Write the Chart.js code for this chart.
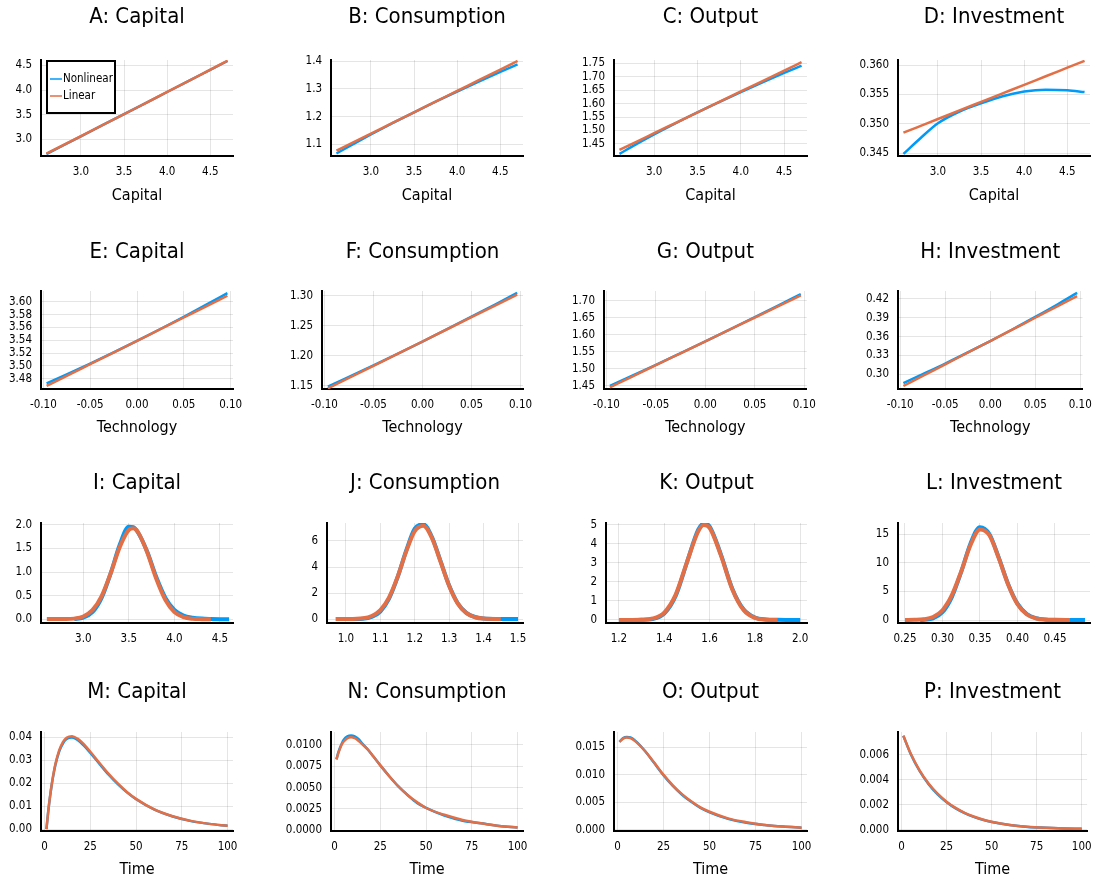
<!DOCTYPE html>
<html>
<head>
<meta charset="utf-8">
<script src="https://cdn.jsdelivr.net/npm/chart.js@4.4.1/dist/chart.umd.min.js"></script>
<style>
  body { margin: 0; background: #fff; }
  #grid { position: relative; width: 1101px; height: 884px; }
  .cell { position: absolute; }
</style>
</head>
<body>
<div id="grid"></div>
<script>
const FONT = "'DejaVu Sans Condensed', 'DejaVu Sans', sans-serif";
const BLUE = '#009AF9';
const ORANGE = '#E26F46';

// ---- row 1: policy functions over capital ----
const capitalGrid = [2.6, 2.8, 3.0, 3.25, 3.5, 3.75, 4.0, 4.25, 4.5, 4.7];
const capitalNonlin = [2.700, 2.880, 3.060, 3.285, 3.510, 3.735, 3.960, 4.185, 4.410, 4.590];
const capitalLinear = [2.708, 2.885, 3.063, 3.286, 3.510, 3.736, 3.962, 4.188, 4.414, 4.595];
const consNonlin = [1.0670, 1.1018, 1.1354, 1.1762, 1.2154, 1.2534, 1.2902, 1.3261, 1.3609, 1.3880];
const consLinear = [1.0770, 1.1078, 1.1385, 1.1770, 1.2154, 1.2539, 1.2923, 1.3308, 1.3692, 1.4000];
const outNonlin = [1.4130, 1.4499, 1.4853, 1.5275, 1.5674, 1.6056, 1.6428, 1.6788, 1.7138, 1.7410];
const outLinear = [1.4277, 1.4587, 1.4898, 1.5286, 1.5674, 1.6062, 1.6450, 1.6838, 1.7226, 1.7537];
const invNonlin = [0.3449, 0.3476, 0.3501, 0.3521, 0.3535, 0.3547, 0.3555, 0.3558, 0.3557, 0.3554];
const invLinear = [0.34850, 0.34966, 0.35082, 0.35228, 0.35373, 0.35518, 0.35663, 0.35809, 0.35954, 0.36070];

// ---- row 2: policy functions over technology ----
const techGrid = [-0.0965, -0.075, -0.05, -0.025, 0, 0.025, 0.05, 0.075, 0.0965];
const techCapNonlin = [3.4728, 3.4869, 3.5037, 3.5211, 3.5390, 3.5575, 3.5765, 3.5961, 3.6135];
const techCapLinear = [3.4687, 3.4844, 3.5026, 3.5208, 3.5390, 3.5572, 3.5754, 3.5936, 3.6093];
const techConsNonlin = [1.1488, 1.1652, 1.1844, 1.2040, 1.2240, 1.2444, 1.2652, 1.2864, 1.3050];
const techConsLinear = [1.1460, 1.1634, 1.1836, 1.2038, 1.2240, 1.2442, 1.2644, 1.2846, 1.3020];
const techOutNonlin = [1.4500, 1.4785, 1.5121, 1.5463, 1.5810, 1.6163, 1.6521, 1.6883, 1.7200];
const techOutLinear = [1.4460, 1.4761, 1.5110, 1.5460, 1.5810, 1.6160, 1.6510, 1.6859, 1.7160];
const techInvNonlin = [0.2859, 0.3002, 0.3171, 0.3348, 0.3530, 0.3718, 0.3914, 0.4116, 0.4297];
const techInvLinear = [0.2814, 0.2974, 0.3159, 0.3345, 0.3530, 0.3715, 0.3901, 0.4086, 0.4246];

// ---- row 3: simulated densities ----
const densCapNlX = [2.9, 3.0, 3.1, 3.2, 3.3, 3.4, 3.5, 3.55, 3.6, 3.7, 3.8, 3.9, 4.0, 4.1, 4.2, 4.3, 4.4, 4.5, 4.6];
const densCapNl = [0.005, 0.035, 0.15, 0.45, 0.97, 1.58, 1.96, 1.95, 1.84, 1.44, 0.90, 0.46, 0.20, 0.08, 0.035, 0.015, 0.007, 0.003, 0.001];
const densCapLinX = [2.6, 2.8, 2.9, 3.0, 3.1, 3.2, 3.3, 3.4, 3.5, 3.55, 3.6, 3.7, 3.8, 3.9, 4.0, 4.1, 4.2, 4.3, 4.4];
const densCapLin = [0.005, 0.006, 0.015, 0.060, 0.193, 0.487, 0.973, 1.529, 1.893, 1.928, 1.849, 1.424, 0.863, 0.414, 0.155, 0.046, 0.011, 0.004, 0.002];
const densConsNlX = [1.0, 1.05, 1.075, 1.1, 1.125, 1.15, 1.175, 1.2, 1.225, 1.25, 1.275, 1.3, 1.325, 1.35, 1.375, 1.4, 1.45, 1.5];
const densConsNl = [0.0, 0.03, 0.16, 0.58, 1.55, 3.20, 5.25, 6.95, 7.28, 6.30, 4.45, 2.58, 1.22, 0.48, 0.16, 0.05, 0.008, 0.001];
const densConsLinX = [0.97, 1.0, 1.05, 1.075, 1.1, 1.125, 1.15, 1.175, 1.2, 1.225, 1.25, 1.275, 1.3, 1.325, 1.35, 1.375, 1.4, 1.45];
const densConsLin = [0.0, 0.003, 0.065, 0.235, 0.687, 1.65, 3.24, 5.18, 6.75, 7.17, 6.22, 4.40, 2.55, 1.19, 0.455, 0.144, 0.037, 0.001];
const densOutNlX = [1.25, 1.3, 1.35, 1.4, 1.45, 1.5, 1.55, 1.575, 1.6, 1.65, 1.7, 1.75, 1.8, 1.85, 1.9, 1.95, 2.0];
const densOutNl = [0.0, 0.005, 0.05, 0.33, 1.25, 3.02, 4.75, 5.07, 4.92, 3.45, 1.66, 0.56, 0.13, 0.03, 0.008, 0.002, 0.0];
const densOutLinX = [1.2, 1.25, 1.3, 1.35, 1.4, 1.45, 1.5, 1.55, 1.575, 1.6, 1.65, 1.7, 1.75, 1.8, 1.85, 1.9];
const densOutLin = [0.0, 0.001, 0.011, 0.079, 0.39, 1.32, 3.03, 4.66, 4.99, 4.85, 3.40, 1.62, 0.52, 0.11, 0.016, 0.002];
const densInvNlX = [0.27, 0.2875, 0.30, 0.3125, 0.325, 0.3375, 0.35, 0.3625, 0.375, 0.3875, 0.40, 0.4125, 0.425, 0.4375, 0.45, 0.47, 0.49];
const densInvNl = [0.0, 0.3, 1.35, 4.0, 8.4, 13.4, 16.2, 15.0, 10.9, 6.3, 2.85, 1.05, 0.32, 0.09, 0.03, 0.01, 0.0];
const densInvLinX = [0.25, 0.2625, 0.275, 0.2875, 0.30, 0.3125, 0.325, 0.3375, 0.35, 0.3625, 0.375, 0.3875, 0.40, 0.4125, 0.425, 0.4375, 0.45, 0.47];
const densInvLin = [0.004, 0.03, 0.127, 0.525, 1.71, 4.33, 8.49, 13.1, 15.79, 14.8, 10.8, 6.2, 2.76, 0.96, 0.26, 0.055, 0.01, 0.0];

// ---- row 4: impulse responses ----
const irfCapT = [1, 2, 3, 4, 5, 6, 8, 10, 12, 15, 18, 21, 25, 30, 35, 40, 45, 50, 60, 70, 80, 90, 100];
const irfCapNl = [0, 0.0078, 0.0143, 0.0198, 0.0244, 0.0283, 0.0339, 0.0373, 0.0392, 0.0399, 0.0388, 0.0367, 0.0332, 0.0284, 0.0237, 0.0196, 0.0160, 0.0130, 0.0085, 0.0055, 0.0035, 0.0023, 0.0015];
const irfCapLin = [0, 0.0079, 0.0145, 0.0201, 0.0248, 0.0287, 0.0344, 0.0379, 0.0398, 0.0405, 0.0394, 0.0373, 0.0337, 0.0288, 0.0241, 0.0199, 0.0162, 0.0132, 0.0086, 0.0056, 0.0036, 0.0023, 0.0015];
const irfConsT = [1, 2, 3, 4, 5, 7, 9, 11, 13, 15, 18, 21, 25, 30, 35, 40, 45, 50, 60, 70, 80, 90, 100];
const irfConsNl = [0.0083, 0.0091, 0.0097, 0.0102, 0.0106, 0.0110, 0.0111, 0.0110, 0.0107, 0.0102, 0.0095, 0.0087, 0.0076, 0.0063, 0.0051, 0.0041, 0.0032, 0.0026, 0.0017, 0.0011, 0.0008, 0.0005, 0.0003];
const irfConsLin = [0.0083, 0.0090, 0.0096, 0.0101, 0.0104, 0.0108, 0.0109, 0.0108, 0.0105, 0.0101, 0.0095, 0.0087, 0.0076, 0.0063, 0.0051, 0.0041, 0.0033, 0.0026, 0.0018, 0.0012, 0.0008, 0.0005, 0.0003];
const irfOutT = [1, 3, 5, 7, 10, 15, 20, 25, 30, 35, 40, 45, 50, 60, 70, 80, 90, 100];
const irfOutNl = [0.0160, 0.0167, 0.0169, 0.0168, 0.0161, 0.0143, 0.0121, 0.0099, 0.0080, 0.0064, 0.0051, 0.0040, 0.0032, 0.0020, 0.0013, 0.0009, 0.0006, 0.0004];
const irfOutLin = [0.0160, 0.0166, 0.0168, 0.0167, 0.0160, 0.0143, 0.0122, 0.0100, 0.0081, 0.0065, 0.0052, 0.0041, 0.0033, 0.0021, 0.0014, 0.0009, 0.0006, 0.0004];
const irfInvT = [1, 5, 10, 15, 20, 25, 30, 35, 40, 45, 50, 60, 70, 80, 90, 100];
const irfInvNl = [0.00754, 0.00610, 0.00472, 0.00366, 0.00284, 0.00221, 0.00171, 0.00133, 0.00103, 0.00080, 0.00062, 0.00038, 0.00023, 0.00016, 0.00011, 0.00008];
const irfInvLin = [0.00754, 0.00614, 0.00477, 0.00371, 0.00289, 0.00225, 0.00175, 0.00136, 0.00106, 0.00082, 0.00064, 0.00039, 0.00024, 0.00016, 0.00011, 0.00008];

// ---- tick labels ----
const capitalTicks = ['3.0', '3.5', '4.0', '4.5'];
const techTicks = ['-0.10', '-0.05', '0.00', '0.05', '0.10'];
const timeTicks = ['0', '25', '50', '75', '100'];

const panels = [
  { title: 'A: Capital', xLabel: 'Capital', nlX: capitalGrid, nl: capitalNonlin, linX: capitalGrid, lin: capitalLinear,
    xTicks: capitalTicks, yTicks: ['3.0', '3.5', '4.0', '4.5'], x: [2.537, 4.763], y: [2.66, 4.61], legend: true },
  { title: 'B: Consumption', xLabel: 'Capital', nlX: capitalGrid, nl: consNonlin, linX: capitalGrid, lin: consLinear,
    xTicks: capitalTicks, yTicks: ['1.1', '1.2', '1.3', '1.4'], x: [2.537, 4.763], y: [1.058, 1.4036] },
  { title: 'C: Output', xLabel: 'Capital', nlX: capitalGrid, nl: outNonlin, linX: capitalGrid, lin: outLinear,
    xTicks: capitalTicks, yTicks: ['1.45', '1.50', '1.55', '1.60', '1.65', '1.70', '1.75'], x: [2.537, 4.763], y: [1.405, 1.762] },
  { title: 'D: Investment', xLabel: 'Capital', nlX: capitalGrid, nl: invNonlin, linX: capitalGrid, lin: invLinear,
    xTicks: capitalTicks, yTicks: ['0.345', '0.350', '0.355', '0.360'], x: [2.537, 4.763], y: [0.34454, 0.36085] },

  { title: 'E: Capital', xLabel: 'Technology', nlX: techGrid, nl: techCapNonlin, linX: techGrid, lin: techCapLinear,
    xTicks: techTicks, yTicks: ['3.48', '3.50', '3.52', '3.54', '3.56', '3.58', '3.60'], x: [-0.1025, 0.1025], y: [3.464, 3.6167] },
  { title: 'F: Consumption', xLabel: 'Technology', nlX: techGrid, nl: techConsNonlin, linX: techGrid, lin: techConsLinear,
    xTicks: techTicks, yTicks: ['1.15', '1.20', '1.25', '1.30'], x: [-0.1025, 0.1025], y: [1.145, 1.308] },
  { title: 'G: Output', xLabel: 'Technology', nlX: techGrid, nl: techOutNonlin, linX: techGrid, lin: techOutLinear,
    xTicks: techTicks, yTicks: ['1.45', '1.50', '1.55', '1.60', '1.65', '1.70'], x: [-0.1025, 0.1025], y: [1.441, 1.729] },
  { title: 'H: Investment', xLabel: 'Technology', nlX: techGrid, nl: techInvNonlin, linX: techGrid, lin: techInvLinear,
    xTicks: techTicks, yTicks: ['0.30', '0.33', '0.36', '0.39', '0.42'], x: [-0.1025, 0.1025], y: [0.2766, 0.4327] },

  { title: 'I: Capital', nlX: densCapNlX, nl: densCapNl, linX: densCapLinX, lin: densCapLin,
    xTicks: ['3.0', '3.5', '4.0', '4.5'], yTicks: ['0.0', '0.5', '1.0', '1.5', '2.0'], x: [2.536, 4.643], y: [-0.078, 2.04] },
  { title: 'J: Consumption', nlX: densConsNlX, nl: densConsNl, linX: densConsLinX, lin: densConsLin,
    xTicks: ['1.0', '1.1', '1.2', '1.3', '1.4', '1.5'], yTicks: ['0', '2', '4', '6'], x: [0.945, 1.5145], y: [-0.3, 7.38] },
  { title: 'K: Output', nlX: densOutNlX, nl: densOutNl, linX: densOutLinX, lin: densOutLin,
    xTicks: ['1.2', '1.4', '1.6', '1.8', '2.0'], yTicks: ['0', '1', '2', '3', '4', '5'], x: [1.143, 2.03], y: [-0.16, 5.1] },
  { title: 'L: Investment', nlX: densInvNlX, nl: densInvNl, linX: densInvLinX, lin: densInvLin,
    xTicks: ['0.25', '0.30', '0.35', '0.40', '0.45'], yTicks: ['0', '5', '10', '15'], x: [0.2407, 0.4967], y: [-0.52, 16.92] },

  { title: 'M: Capital', xLabel: 'Time', nlX: irfCapT, nl: irfCapNl, linX: irfCapT, lin: irfCapLin,
    xTicks: timeTicks, yTicks: ['0.00', '0.01', '0.02', '0.03', '0.04'], x: [-1.97, 102.97], y: [-0.0008, 0.0423] },
  { title: 'N: Consumption', xLabel: 'Time', nlX: irfConsT, nl: irfConsNl, linX: irfConsT, lin: irfConsLin,
    xTicks: timeTicks, yTicks: ['0.0000', '0.0025', '0.0050', '0.0075', '0.0100'], x: [-1.97, 102.97], y: [-0.0001, 0.01152] },
  { title: 'O: Output', xLabel: 'Time', nlX: irfOutT, nl: irfOutNl, linX: irfOutT, lin: irfOutLin,
    xTicks: timeTicks, yTicks: ['0.000', '0.005', '0.010', '0.015'], x: [-1.97, 102.97], y: [-0.0002, 0.0178] },
  { title: 'P: Investment', xLabel: 'Time', nlX: irfInvT, nl: irfInvNl, linX: irfInvT, lin: irfInvLin,
    xTicks: timeTicks, yTicks: ['0.000', '0.002', '0.004', '0.006'], x: [-1.97, 102.97], y: [-0.0001, 0.00784] }
];

// ---- page layout (pixels) ----
const cellX = [0, 275, 550, 825], cellW = [275, 275, 275, 276];
const cellY = [0, 220, 460, 670], cellH = [220, 240, 210, 214];
const plotLeft = [[41, 331, 614, 898], [41, 322, 604, 898], [41, 327, 606, 898], [41, 331, 614, 898]];
const plotRight = [233, 523, 807, 1090];
const plotTop = [60, 291, 523, 732], plotBottom = [156, 389, 623, 831];
const titleMid = [17, 252, 483, 692];
const xTitleMid = [196, 428, null, 870];
const lineWidth = [2.5, 2.5, 4, 2.5];

// framed legend in the upper left of the plot area
const boxLegend = {
  id: 'boxLegend',
  afterDatasetsDraw(chart, args, opts) {
    if (!opts.show) return;
    const { ctx, chartArea } = chart;
    const x0 = chartArea.left + 6, y0 = chartArea.top + 1, w = 68, h = 52;
    ctx.save();
    ctx.fillStyle = '#fff';
    ctx.fillRect(x0, y0, w, h);
    ctx.strokeStyle = '#000';
    ctx.lineWidth = 2;
    ctx.strokeRect(x0, y0, w, h);
    ctx.font = '11.5px ' + FONT;
    ctx.textBaseline = 'middle';
    chart.data.datasets.forEach((ds, i) => {
      const yy = y0 + 18 + i * 17;
      ctx.strokeStyle = ds.borderColor;
      ctx.lineWidth = 1.5;
      ctx.beginPath();
      ctx.moveTo(x0 + 3, yy);
      ctx.lineTo(x0 + 15, yy);
      ctx.stroke();
      ctx.fillStyle = '#000';
      ctx.fillText(ds.label, x0 + 16, yy);
    });
    ctx.restore();
  }
};

const grid = document.getElementById('grid');

panels.forEach((p, k) => {
  const r = Math.floor(k / 4), c = k % 4;
  const div = document.createElement('div');
  div.className = 'cell';
  div.style.left = cellX[c] + 'px';
  div.style.top = cellY[r] + 'px';
  const canvas = document.createElement('canvas');
  canvas.width = cellW[c];
  canvas.height = cellH[r];
  div.appendChild(canvas);
  grid.appendChild(div);

  const yAxisW = plotLeft[r][c] - cellX[c];
  const xAxisH = cellY[r] + cellH[r] - plotBottom[r];
  const titleTop = titleMid[r] - cellY[r] - 13.2;
  const titleBottom = plotTop[r] - cellY[r] - titleTop - 26.4;
  const xTitleBottom = xTitleMid[r] ? cellY[r] + cellH[r] - xTitleMid[r] - 9.6 : 0;

  const tickFont = { family: FONT, size: 11.5 };
  const gridOpts = { color: 'rgba(0,0,0,0.1)', drawTicks: false };

  new Chart(canvas, {
    type: 'line',
    data: {
      datasets: [
        // nonlinear drawn first, linear on top
        { label: 'Nonlinear', data: p.nlX.map((x, i) => ({ x, y: p.nl[i] })), borderColor: BLUE, order: 2 },
        { label: 'Linear', data: p.linX.map((x, i) => ({ x, y: p.lin[i] })), borderColor: ORANGE, order: 1 }
      ]
    },
    options: {
      responsive: false,
      animation: false,
      devicePixelRatio: 1,
      layout: { padding: { left: 0, top: 0, bottom: 0, right: cellX[c] + cellW[c] - plotRight[c] } },
      elements: {
        point: { radius: 0 },
        line: { borderWidth: lineWidth[r], cubicInterpolationMode: 'monotone', fill: false }
      },
      plugins: {
        legend: { display: false },
        tooltip: { enabled: false },
        title: {
          display: true, text: p.title, fullSize: false, color: '#000',
          font: { family: FONT, size: 22, weight: 'normal' },
          padding: { top: titleTop, bottom: titleBottom }
        },
        boxLegend: { show: !!p.legend }
      },
      scales: {
        x: {
          type: 'linear', min: p.x[0], max: p.x[1],
          afterBuildTicks: s => { s.ticks = p.xTicks.map(v => ({ value: parseFloat(v) })); },
          afterFit: s => { s.height = xAxisH; },
          ticks: { autoSkip: false, maxRotation: 0, padding: 9, color: '#000', font: tickFont,
                   callback: (v, i) => p.xTicks[i] },
          grid: gridOpts,
          border: { color: '#000', width: 2 },
          title: { display: !!p.xLabel, text: p.xLabel || '', color: '#000',
                   font: { family: FONT, size: 16 }, padding: { top: 0, bottom: xTitleBottom } }
        },
        y: {
          type: 'linear', min: p.y[0], max: p.y[1],
          afterBuildTicks: s => { s.ticks = p.yTicks.map(v => ({ value: parseFloat(v) })); },
          afterFit: s => { s.width = yAxisW; },
          ticks: { autoSkip: false, padding: 9, color: '#000', font: tickFont,
                   callback: (v, i) => p.yTicks[i] },
          grid: gridOpts,
          border: { color: '#000', width: 2 }
        }
      }
    },
    plugins: [boxLegend]
  });
});
</script>
</body>
</html>
